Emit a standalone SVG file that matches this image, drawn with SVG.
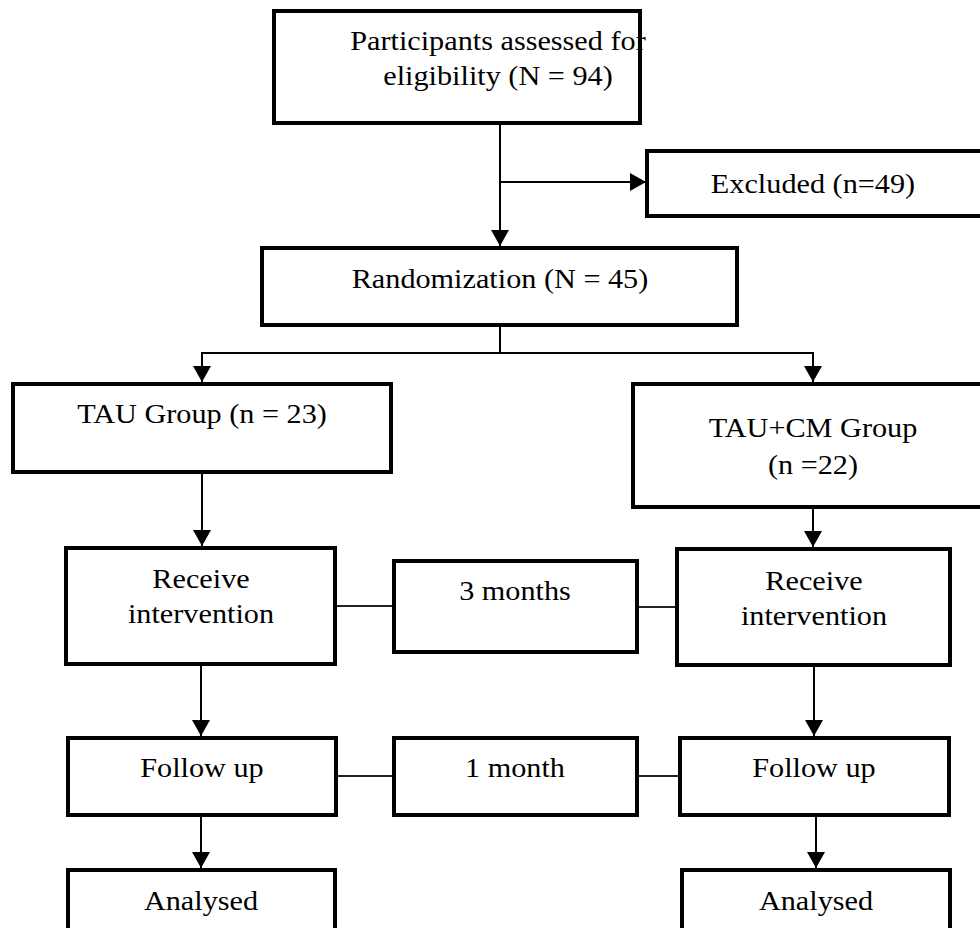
<svg xmlns="http://www.w3.org/2000/svg" width="980" height="928" viewBox="0 0 980 928">
<style>
.box{fill:#fff;stroke:#000;stroke-width:4}
.t{font-family:'Liberation Serif','DejaVu Serif',serif;font-size:27px;fill:#000;text-anchor:middle;transform-box:fill-box;transform-origin:center;transform:scaleX(1.12)}
.c{fill:none;stroke:#000;stroke-width:2}
.g{fill:none;stroke:#222;stroke-width:2}
</style>
<defs>
<marker id="ah" markerWidth="16" markerHeight="18" refX="16" refY="9" orient="auto" markerUnits="userSpaceOnUse">
<path d="M0,0 L16,9 L0,18 Z" fill="#000"/>
</marker>
</defs>
<rect width="980" height="928" fill="#fff"/>
<g id="connectors">
<line class="c" x1="500" y1="123" x2="500" y2="246" marker-end="url(#ah)"/>
<line class="c" x1="500" y1="182" x2="646" y2="182" marker-end="url(#ah)"/>
<polyline class="c" points="500,325 500,353 202,353 202,382" marker-end="url(#ah)"/>
<polyline class="c" points="500,353 813,353 813,382" marker-end="url(#ah)"/>
<line class="c" x1="202" y1="473" x2="202" y2="546" marker-end="url(#ah)"/>
<line class="c" x1="813" y1="507" x2="813" y2="547" marker-end="url(#ah)"/>
<line class="c" x1="201" y1="664" x2="201" y2="736" marker-end="url(#ah)"/>
<line class="c" x1="814" y1="665" x2="814" y2="736" marker-end="url(#ah)"/>
<line class="c" x1="201" y1="815" x2="201" y2="868" marker-end="url(#ah)"/>
<line class="c" x1="816" y1="815" x2="816" y2="868" marker-end="url(#ah)"/>
<line class="g" x1="335" y1="606" x2="393" y2="606"/>
<line class="g" x1="637" y1="607" x2="677" y2="607"/>
<line class="g" x1="336" y1="776" x2="394" y2="776"/>
<line class="g" x1="637" y1="776" x2="680" y2="776"/>
</g>
<g id="assessed">
<rect class="box" x="274" y="11" width="366" height="112"/>
<text class="t" x="498" y="50">Participants assessed for</text>
<text class="t" x="498" y="85">eligibility (N = 94)</text>
</g>
<g id="excluded">
<rect class="box" x="647" y="151" width="340" height="65"/>
<text class="t" x="813" y="193">Excluded (n=49)</text>
</g>
<g id="randomization">
<rect class="box" x="262" y="248" width="475" height="77"/>
<text class="t" x="500" y="288">Randomization (N = 45)</text>
</g>
<g id="tau">
<rect class="box" x="13" y="384" width="378" height="88"/>
<text class="t" x="202" y="423">TAU Group (n = 23)</text>
</g>
<g id="taucm">
<rect class="box" x="633" y="384" width="360" height="123"/>
<text class="t" x="813" y="437">TAU+CM Group</text>
<text class="t" x="813" y="474">(n =22)</text>
</g>
<g id="receive-left">
<rect class="box" x="66" y="548" width="269" height="116"/>
<text class="t" x="201" y="588">Receive</text>
<text class="t" x="201" y="623">intervention</text>
</g>
<g id="three-months">
<rect class="box" x="394" y="561" width="243" height="91"/>
<text class="t" x="515" y="600">3 months</text>
</g>
<g id="receive-right">
<rect class="box" x="677" y="549" width="273" height="116"/>
<text class="t" x="814" y="590">Receive</text>
<text class="t" x="814" y="625">intervention</text>
</g>
<g id="followup-left">
<rect class="box" x="68" y="738" width="268" height="77"/>
<text class="t" x="202" y="777">Follow up</text>
</g>
<g id="one-month">
<rect class="box" x="394" y="738" width="243" height="77"/>
<text class="t" x="515" y="777">1 month</text>
</g>
<g id="followup-right">
<rect class="box" x="680" y="738" width="269" height="77"/>
<text class="t" x="814" y="777">Follow up</text>
</g>
<g id="analysed-left">
<rect class="box" x="68" y="870" width="267" height="70"/>
<text class="t" x="201" y="910">Analysed</text>
</g>
<g id="analysed-right">
<rect class="box" x="682" y="870" width="268" height="70"/>
<text class="t" x="816" y="910">Analysed</text>
</g>
</svg>
